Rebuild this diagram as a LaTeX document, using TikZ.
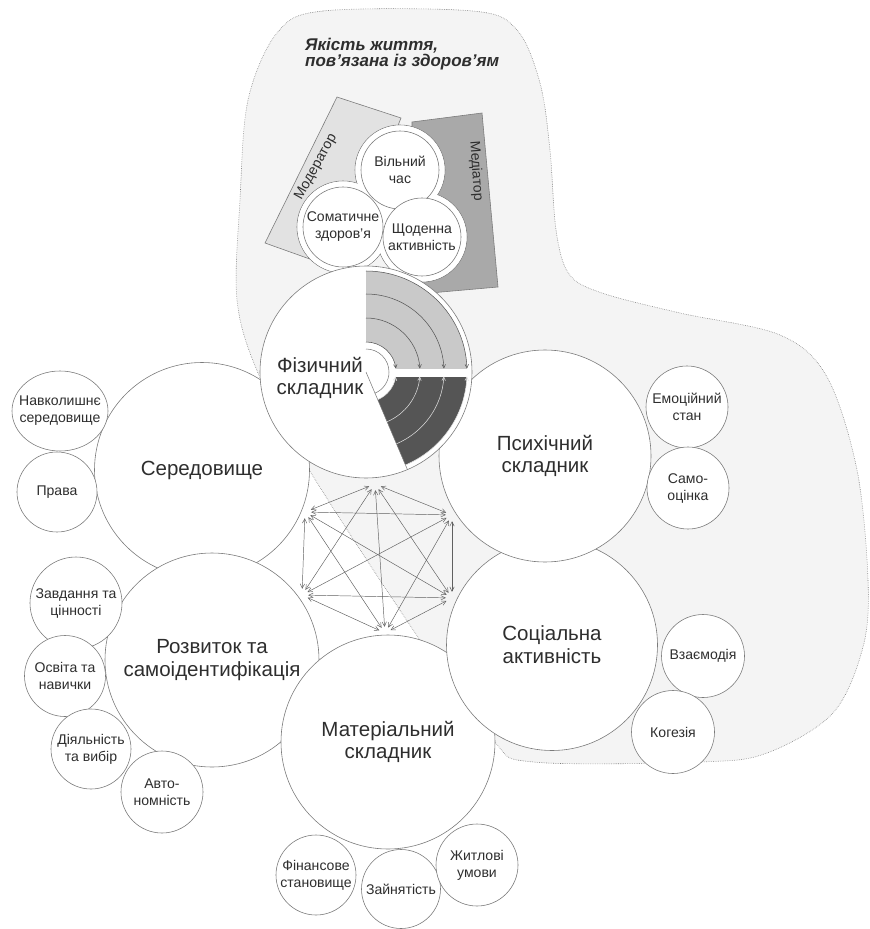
\documentclass[tikz,border=0pt]{standalone}
\usepackage{fontspec}
\setmainfont{Liberation Sans}
\usetikzlibrary{shapes.geometric,arrows.meta}
\definecolor{lineg}{HTML}{7A7A7A}
\definecolor{blobfill}{HTML}{F4F4F4}
\definecolor{modfill}{HTML}{E2E2E2}
\definecolor{medfill}{HTML}{A9A9A9}
\definecolor{lightsec}{HTML}{C9C9C9}
\definecolor{darksec}{HTML}{555555}
\definecolor{textc}{HTML}{2E2E2E}
\definecolor{arrowc}{HTML}{606060}
\newcommand{\bigfnt}{\fontsize{17.5}{19.5}\selectfont}
\newcommand{\smallfnt}{\fontsize{12}{14.5}\selectfont}
\newcommand{\titlefnt}{\fontsize{14.5}{13.6}\selectfont\bfseries\itshape}
\begin{document}
\begin{tikzpicture}[x=0.03cm, y=-0.03cm,
  bigc/.style={circle, draw=lineg, line width=0.5pt, fill=white, minimum size={2*#1*0.03cm}, inner sep=0pt, font=\bigfnt, text=textc, align=center},
  smallc/.style={circle, draw=lineg, line width=0.5pt, fill=white, minimum size={2*#1*0.03cm}, inner sep=0pt, font=\smallfnt, text=textc, align=center},
  lbl/.style={font=\smallfnt, text=textc, align=center, inner sep=0pt},
  hub/.style={circle, minimum size=0.36cm, inner sep=0pt},
  netarrow/.style={{Straight Barb[length=3.8pt,width=3.8pt]}-{Straight Barb[length=3.8pt,width=3.8pt]}, draw=arrowc, line width=0.4pt},
  arcarrow/.style={-{Straight Barb[length=3pt,width=3pt]}, line width=0.45pt},
]
\useasboundingbox (0,0) rectangle (869,929);

% background blob
\draw[fill=blobfill, draw=lineg, densely dotted, line width=0.5pt]
  plot[smooth cycle, tension=0.55] coordinates {
  (277,33) (323,11) (473,11) (517,30) (540,83) (550,150) (556,230) (569,274)
  (602,293) (680,313) (780,335) (827,377) (857,470) (868,580) (863,647)
  (833,713) (767,753) (700,762) (533,762) (493,740) (420,640) (308,468)
  (258,373) (237,300) (240,200) (248,100)};

% moderator / mediator
\filldraw[fill=modfill, draw=lineg, line width=0.5pt]
  (337,97) -- (401,118) -- (397,128) -- (375,160) -- (350,215) -- (335,268) -- (265,243) -- cycle;
\filldraw[fill=medfill, draw=lineg, line width=0.5pt]
  (412,122) -- (482,113) -- (498,287) -- (430,293) -- (420,280) -- (420,160) -- (412,132) -- cycle;
\node[lbl, rotate=61] (modlabel) at (316,167) {Модератор};
\node[lbl, rotate=-86] (medlabel) at (476,171) {Медіатор};

% three circles group with white ring
\foreach \cx/\cy/\cr in {400/170/39, 343/227/40, 422/237/39}
  \filldraw[draw=lineg, fill=white, line width=0.5pt] (\cx,\cy) circle[radius=\cr+6];
\foreach \cx/\cy/\cr in {400/170/39, 343/227/40, 422/237/39}
  \fill[white] (\cx,\cy) circle[radius=\cr+5.5];
\node[smallc=39] (vilnyi) at (400,170) {Вільний\\час};
\node[smallc=40] (somat) at (343,227) {Соматичне\\здоров’я};
\node[smallc=39] (shchod) at (422,237) {Щоденна\\активність};

% big circles
\node[bigc=107.5] (sered) at (202,470) {Середовище};
\node[bigc=107] (rozv) at (212,660) {Розвиток та\\самоідентифікація};
\node[bigc=107] (mater) at (388,742) {Матеріальний\\складник};
\node[bigc=105.5] (sots) at (552,645) {Соціальна\\активність};
\node[bigc=106] (psykh) at (545,456) {Психічний\\складник};
\node[bigc=106] (fiz) at (366,372) {};

% sectors of the physical component
\fill[lightsec] (366,372) -- ++(-90:101) arc[start angle=-90, end angle=0, radius=101] -- cycle;
\fill[darksec] (366,372) -- ++(0:101) arc[start angle=0, end angle=67, radius=101] -- cycle;
\fill[white] (366,372) circle[radius=30];
\fill[white] (366,368.5) rectangle (470.5,376.5);
\draw[lineg, line width=0.45pt] (366,372) -- ++(67:106);
\draw[lineg, line width=0.45pt] (366,372) ++(-90:23) arc[start angle=-90, end angle=67, radius=23];
\foreach \r in {30,54,78,101}
  \draw[arcarrow, darksec] (366,372) ++(-90:\r) arc[start angle=-90, end angle={-asin(3.5/\r)}, radius=\r];
\foreach \r in {30,54,78,101}
  \draw[arcarrow, white!88!black] (366,372) ++(67:\r) arc[start angle=67, end angle={asin(4.5/\r)}, radius=\r];
\node[font=\bigfnt, text=textc, align=center] (fizlabel) at (320,378) {Фізичний\\складник};

% small circles
\draw[lineg, line width=0.5pt, fill=white] (60,411) ellipse[x radius=48, y radius=40];
\node[lbl] (navk) at (60,411) {Навколишнє\\середовище};
\node[smallc=40] (prava) at (57,492) {Права};
\node[smallc=46] (zavd) at (76,603) {Завдання та\\цінності};
\node[smallc=40.5] (osvita) at (65,676) {Освіта та\\навички};
\node[smallc=40] (diyal) at (91,749) {Діяльність\\та вибір};
\node[smallc=41] (avto) at (162,792) {Авто-\\номність};
\node[smallc=40] (finans) at (316,875) {Фінансове\\становище};
\node[smallc=39.5] (zain) at (401,889) {Зайнятість};
\node[smallc=41] (zhytl) at (477,865) {Житлові\\умови};
\node[smallc=41] (emots) at (687,407) {Емоційний\\стан};
\node[smallc=41] (samoots) at (688,488) {Само-\\оцінка};
\node[smallc=41.5] (vzaiem) at (703,656) {Взаємодія};
\node[smallc=41.5] (kohez) at (673,732) {Когезія};

% network of relations
\node[hub] (hA) at (375,484) {};
\node[hub] (hB) at (305,512) {};
\node[hub] (hC) at (452,515) {};
\node[hub] (hD) at (302,595) {};
\node[hub] (hE) at (452,598) {};
\node[hub] (hF) at (385,633) {};
\foreach \a/\b in {hA/hB, hA/hC, hA/hD, hA/hE, hA/hF, hB/hC, hB/hD, hB/hE, hB/hF, hC/hD, hC/hE, hC/hF, hD/hE, hD/hF, hE/hF}
  \draw[netarrow] (\a) -- (\b);

% title
\node[font=\titlefnt, text=textc, align=left, anchor=north west, inner sep=0pt] (title) at (305,38) {Якість життя,\\пов’язана із здоров’ям};
\end{tikzpicture}
\end{document}
